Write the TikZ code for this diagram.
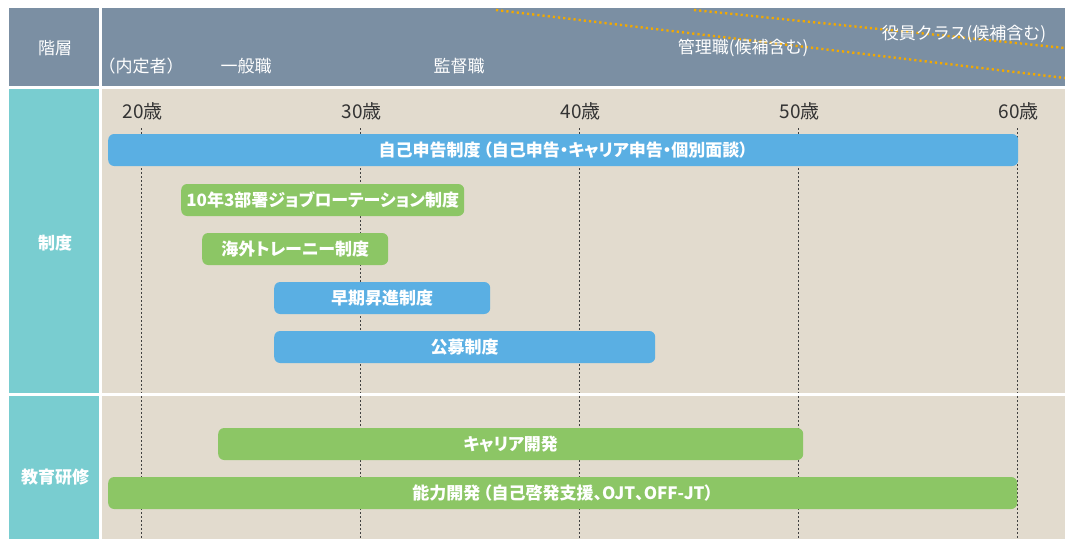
\documentclass[tikz,border=0pt]{standalone}
\usepackage{fontspec}
\setmainfont{Noto Sans CJK JP}
\newfontfamily\pfont{Noto Sans CJK JP}[RawFeature=+palt]
\definecolor{hdr}{HTML}{7B8FA3}
\definecolor{teal}{HTML}{79CDD0}
\definecolor{beige}{HTML}{E2DBCE}
\definecolor{bblue}{HTML}{5AAFE3}
\definecolor{bgreen}{HTML}{8CC665}
\definecolor{dotor}{HTML}{F2A900}
\definecolor{agegray}{HTML}{333333}
\tikzset{
  bar/.style={rounded corners=6pt, text=white, anchor=west, minimum height=32pt, inner sep=0pt,
    font=\pfont\bfseries\fontsize{17}{17}\selectfont},
  hdrtxt/.style={text=white, font=\fontsize{17}{17}\selectfont, inner sep=0pt},
  sidetxt/.style={text=white, font=\bfseries\fontsize{17}{17}\selectfont, inner sep=0pt},
  agetxt/.style={text=agegray, font=\fontsize{19}{19}\selectfont, inner sep=0pt},
  guide/.style={draw=black!75, line width=1pt, dash pattern=on 2pt off 2pt},
  rank/.style={draw=dotor, line width=2.4pt, dash pattern=on 2.2pt off 3pt}
}
\begin{document}
\begin{tikzpicture}[x=1pt,y=-1pt]
\useasboundingbox (0,0) rectangle (1065,539);
\fill[white] (0,0) rectangle (1065,539);
% header
\fill[hdr] (9,8) rectangle (98.5,86);
\fill[hdr] (102,8) rectangle (1065,86);
% sections
\fill[teal] (9,89) rectangle (98.5,393);
\fill[teal] (9,396) rectangle (98.5,539);
\fill[beige] (102,89) rectangle (1065,393);
\fill[beige] (102,396) rectangle (1065,539);
% rank dotted lines
\begin{scope}
\clip (102,8) rectangle (1065,86);
\coordinate (m1) at (496,10);
\coordinate (m2) at (1065,78);
\coordinate (e1) at (694,10);
\coordinate (e2) at (1065,48);
\draw[rank] (m1) -- (m2);
\draw[rank] (e1) -- (e2);
\end{scope}
% header texts
\node[hdrtxt] (kaiso) at (55,48) {階層};
\node[hdrtxt] (naitei) at (141,66) {（内定者）};
\node[hdrtxt] (ippan) at (246,66) {一般職};
\node[hdrtxt] (kantoku) at (459,66) {監督職};
\node[hdrtxt] (kanri) at (743,48) {管理職(候補含む)};
\node[hdrtxt] (yakuin) at (964,34) {役員クラス(候補含む)};
% side labels
\node[sidetxt] (seido) at (55,243) {制度};
\node[sidetxt] (kyoiku) at (55,477) {教育研修};
% age labels and guides
\foreach \a/\x in {20/141,30/360,40/579,50/798,60/1017}{
  \node[agetxt] (age\a) at (\x+1.5,111) {\a 歳};
  \coordinate (gt\a) at (\x,128);
  \coordinate (gb\a) at (\x,393);
  \coordinate (ht\a) at (\x,396);
  \coordinate (hb\a) at (\x,539);
  \draw[guide] (gt\a) -- (gb\a);
  \draw[guide] (ht\a) -- (hb\a);
}
% bars
\node[bar, fill=bblue, minimum width=910pt] (b1) at (108,150) {自己申告制度\,（自己申告・キャリア申告・個別面談）};
\node[bar, fill=bgreen, minimum width=283pt] (b2) at (181,200) {10年3部署ジョブローテーション制度};
\node[bar, fill=bgreen, minimum width=186pt] (b3) at (202,249) {海外トレーニー制度};
\node[bar, fill=bblue, minimum width=216pt] (b4) at (274,298) {早期昇進制度};
\node[bar, fill=bblue, minimum width=381pt] (b5) at (274,347) {公募制度};
\node[bar, fill=bgreen, minimum width=585pt] (b6) at (218,444) {キャリア開発};
\node[bar, fill=bgreen, minimum width=909pt] (b7) at (108,493) {能力開発\,（自己啓発支援、OJT、OFF-JT）};
\end{tikzpicture}
\end{document}
